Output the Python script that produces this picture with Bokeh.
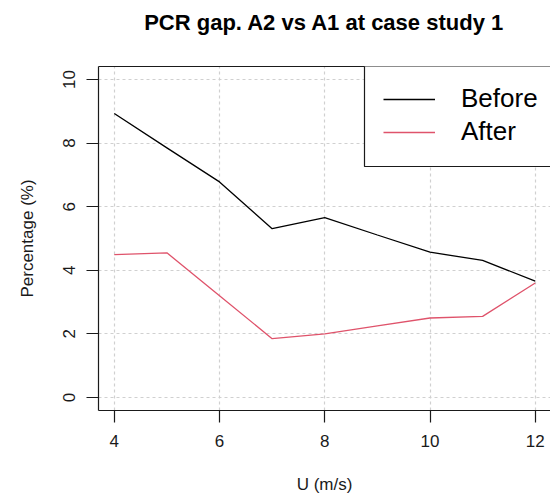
from bokeh.plotting import figure
from bokeh.models import Range1d, LinearAxis, FixedTicker, Legend, LegendItem, BoxAnnotation
from bokeh.embed import file_html
from bokeh.resources import INLINE

# Wind speed (m/s) and PCR gap (%) before / after
u = [4, 5, 6, 7, 8, 9, 10, 11, 12]
before = [8.93, 7.85, 6.78, 5.31, 5.66, 5.11, 4.57, 4.31, 3.66]
after = [4.49, 4.55, 3.20, 1.85, 2.00, 2.25, 2.50, 2.55, 3.60]

x_ticks = [4, 6, 8, 10, 12]
y_ticks = [0, 2, 4, 6, 8, 10]

title_text = "PCR gap. A2 vs A1 at case study 1"
x_label = "U (m/s)"
y_label = "Percentage (%)"

FONT = "Liberation Sans"
INK = "#1a1a1a"

X0, X1 = 3.70, 12.29
Y0, Y1 = -0.41, 10.41

p = figure(width=550, height=498, output_backend="svg", toolbar_location=None,
           x_range=Range1d(X0, X1), y_range=Range1d(Y0, Y1),
           min_border_left=98, min_border_right=0, min_border_top=66,
           min_border_bottom=88)
p.outline_line_color = None
p.background_fill_color = "white"
p.border_fill_color = "white"

p.xaxis.ticker = FixedTicker(ticks=x_ticks)
p.yaxis.ticker = FixedTicker(ticks=y_ticks)
p.xaxis.axis_label = x_label
p.yaxis.axis_label = y_label

for ax in (p.xaxis[0], p.yaxis[0]):
    ax.axis_line_color = INK
    ax.axis_line_width = 1.2
    ax.major_tick_line_color = INK
    ax.major_tick_line_width = 1.2
    ax.major_tick_out = 12
    ax.major_tick_in = 0
    ax.minor_tick_out = 0
    ax.minor_tick_in = 0
    ax.major_label_text_font = FONT
    ax.major_label_text_font_size = "17px"
    ax.major_label_text_color = INK
    ax.axis_label_text_font = FONT
    ax.axis_label_text_font_size = "17px"
    ax.axis_label_text_font_style = "normal"
    ax.axis_label_text_color = INK

p.xaxis.major_label_standoff = 12
p.xaxis.axis_label_standoff = 25
p.yaxis.major_label_orientation = "vertical"
p.yaxis.major_label_standoff = 11
p.yaxis.axis_label_standoff = 24

for g in (p.xgrid[0], p.ygrid[0]):
    g.grid_line_color = "#d0d0d0"
    g.grid_line_dash = "3 3"
    g.grid_line_width = 1.2

# top edge of the box, carrying the title
top = LinearAxis(ticker=FixedTicker(ticks=[]), axis_label=title_text,
                 major_tick_out=0, major_tick_in=0, minor_tick_out=0, minor_tick_in=0,
                 major_label_text_font_size="0px",
                 axis_line_color=INK, axis_line_width=1.2,
                 axis_label_text_font=FONT, axis_label_text_font_size="22px",
                 axis_label_text_font_style="bold", axis_label_text_color="black",
                 axis_label_standoff=32)
p.add_layout(top, "above")

r1 = p.line(u, before, line_color="black", line_width=1.3)
r2 = p.line(u, after, line_color="#DF536B", line_width=1.3)

# legend panel: white box with left and bottom edges, running off the right side
frame_left = X0 + 266 / 452 * (X1 - X0)
frame_bottom = Y0 + 244 / 344 * (Y1 - Y0)
legend_frame = BoxAnnotation(left=frame_left, bottom=frame_bottom,
                             right=X1 + 1.0, top=Y1 + 1.0,
                             fill_color="white", fill_alpha=1.0,
                             line_color=INK, line_alpha=1.0, line_width=1.2)
p.add_layout(legend_frame)

# border kept (transparent) so that the padding still applies
legend = Legend(items=[LegendItem(label="Before", renderers=[r1]),
                       LegendItem(label="After", renderers=[r2])],
                location=(266, 244), orientation="vertical", margin=0,
                border_line_color=INK, border_line_alpha=0.0,
                background_fill_alpha=0.0,
                padding=19, spacing=2, label_height=30, glyph_width=52,
                glyph_height=30, label_standoff=26, label_width=120,
                label_text_font=FONT, label_text_font_size="26px",
                label_text_color="black")
p.add_layout(legend)

open("out.html", "w").write(file_html(p, INLINE))
